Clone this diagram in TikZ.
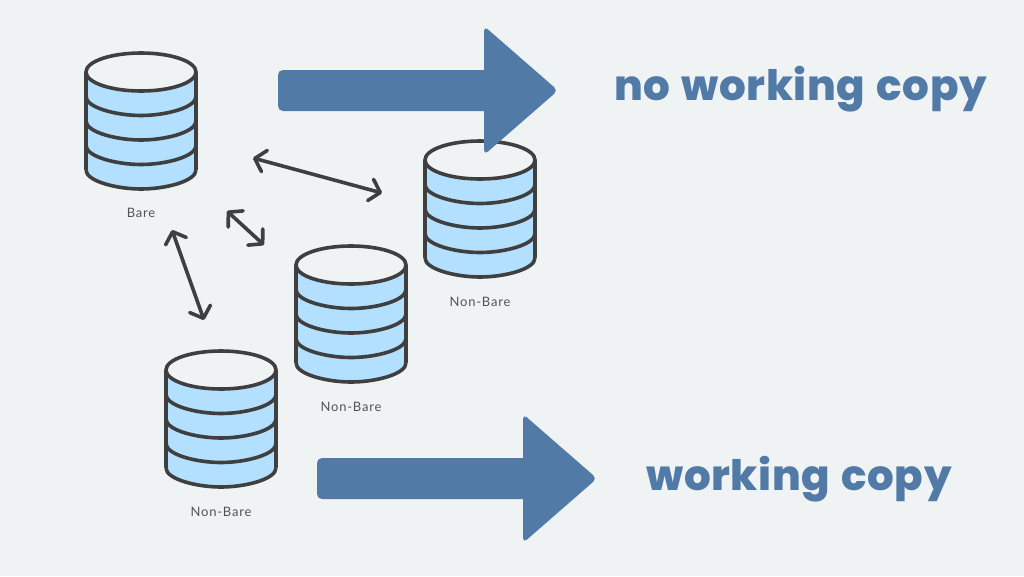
\documentclass[tikz,border=0pt]{standalone}
\usepackage{fontspec}
\setmainfont{Poppins}
\newfontfamily\headfont[LetterSpace=1.5,WordSpace=1.3]{Poppins ExtraBold}
\newfontfamily\labelfont[LetterSpace=6]{Lato}
\usetikzlibrary{arrows.meta}
\definecolor{bgc}{HTML}{F0F3F4}
\definecolor{blockc}{HTML}{527AA6}
\definecolor{bandc}{HTML}{B3E0FF}
\definecolor{inkc}{HTML}{3F3F3F}
\tikzset{
  x=1pt,y=-1pt,
  link/.style={draw=inkc,line width=3.6pt,line cap=round,line join=round,{Straight Barb[length=10pt,width=22pt,round]}-{Straight Barb[length=10pt,width=22pt,round]}},
  blockarrow/.style={fill=blockc,rounded corners=5pt},
  headline/.style={font=\headfont\fontsize{42}{42}\selectfont,text=blockc,anchor=base,inner sep=0pt},
  dblabel/.style={font=\labelfont\fontsize{13}{13}\selectfont,text=inkc!90,anchor=center,inner sep=0pt},
  stroke/.style={draw=inkc,line width=3.6pt},
  pics/dbstack/.style={code={
    \fill[bandc] (-55,0) -- (-55,98) .. controls (-55,109) and (-25,117) .. (0,117) .. controls (25,117) and (55,109) .. (55,98) -- (55,0) -- cycle;
    \draw[stroke] (-55,0) -- (-55,98);
    \draw[stroke] (55,0) -- (55,98);
    \draw[stroke] (-55,98) .. controls (-55,109) and (-25,117) .. (0,117) .. controls (25,117) and (55,109) .. (55,98);
    \foreach \yy in {24.5,49,73.5}{
      \draw[stroke] (-55,\yy) .. controls (-55,\yy+11) and (-25,\yy+19) .. (0,\yy+19) .. controls (25,\yy+19) and (55,\yy+11) .. (55,\yy);
    }
    \draw[stroke,fill=bgc] (0,0) ellipse[x radius=55,y radius=19];
  }},
}
\begin{document}
\begin{tikzpicture}
\useasboundingbox (0,0) rectangle (1024,576);
\fill[bgc] (0,0) rectangle (1024,576);
\pic at (141,72) {dbstack};
\pic at (480,160) {dbstack};
\pic at (351,265) {dbstack};
\pic at (221,370) {dbstack};
\node[dblabel] (lbare) at (141,213) {Bare};
\node[dblabel] (lnb1) at (480,301.5) {Non-Bare};
\node[dblabel] (lnb2) at (351,406.5) {Non-Bare};
\node[dblabel] (lnb3) at (221,511.5) {Non-Bare};
\coordinate (a1) at (253,158);
\coordinate (a2) at (382,193);
\coordinate (b1) at (227,211);
\coordinate (b2) at (264,245);
\coordinate (c1) at (172,230);
\coordinate (c2) at (204,320);
\draw[link] (a1) -- (a2);
\draw[link] (b1) -- (b2);
\draw[link] (c1) -- (c2);
\fill[blockarrow] (278,70) -- (490,70) -- (490,111) -- (278,111) -- cycle;
\fill[blockarrow] (484,26) -- (558,90.5) -- (484,155) -- cycle;
\fill[blockarrow] (317,458) -- (529,458) -- (529,499) -- (317,499) -- cycle;
\fill[blockarrow] (523,414) -- (597,478.5) -- (523,543) -- cycle;
\node[headline] (t1) at (800.5,100) {no working copy};
\node[headline] (t2) at (799,490) {working copy};
\end{tikzpicture}
\end{document}
